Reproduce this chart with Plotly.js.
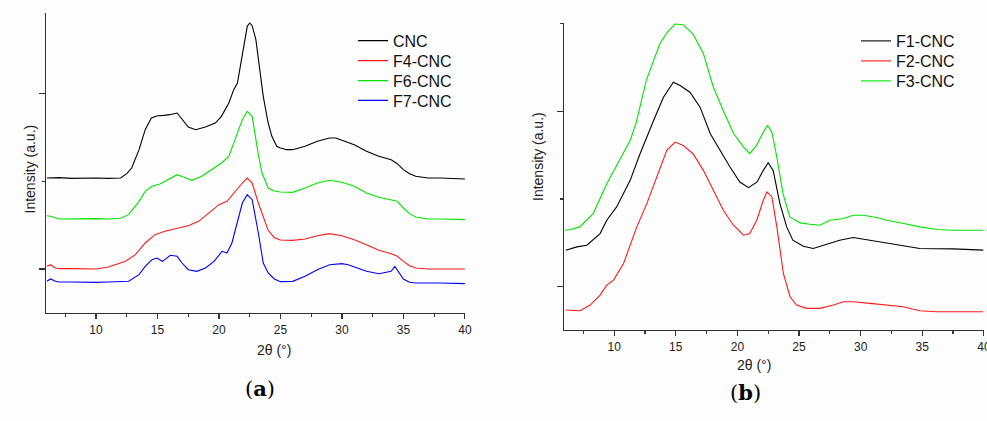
<!DOCTYPE html>
<html>
<head>
<meta charset="utf-8">
<script src="https://cdn.plot.ly/plotly-3.0.1.min.js"></script>
<style>html,body{margin:0;padding:0;background:#fdfdfd;}#chart{width:987px;height:421px;}</style>
</head>
<body>
<div id="chart"></div>
<script>
// ---- Panel (a): 2θ positions and intensities (a.u., stacked as in the figure)
const cncX = [6,7,8,9,10,11,12,12.5,12.9,13.5,14.0,14.5,15.0,15.5,16.0,16.6,17.0,17.5,18.1,18.9,19.7,20.2,20.8,21.2,21.5,22.0,22.3,22.5,22.7,23.0,23.3,23.6,24.0,24.3,24.7,25,25.5,26,27,28,29,29.5,30,31,32,33,34,34.5,35,35.5,36,37,38,39,40];
const cncI = [405,406,404,405,405,404,405,418,435,490,550,585,592,593,595,600,580,558,550,558,570,590,630,670,690,800,860,870,862,820,740,650,570,530,500,495,490,490,500,515,525,525,518,505,485,470,460,448,430,418,410,405,405,404,402];

const f4X = [6,6.3,6.7,7,8,9,10,11,11.3,12.4,13.2,14.0,14.8,15.6,16.7,17.5,18.35,19.15,20.0,20.65,21.3,21.9,22.3,22.7,23.2,24,24.5,25,26,27,28,29,30,31,32,33,34,34.5,35,35.5,36,37,38,40];
const f4I = [140,145,135,133,133,132,132,138,142,155,175,210,235,245,255,262,275,300,325,335,365,390,405,390,330,248,226,219,218,222,232,238,232,220,205,188,178,170,155,142,135,132,132,132];

const f6X = [6,6.3,7,8,9,10,11,12,12.65,13.5,14.0,14.55,15.2,15.9,16.6,17.1,17.8,18.6,19.4,20.2,20.8,21.3,21.9,22.3,22.7,23.2,23.5,24,24.5,25,25.5,26,27,28,29,30,31,32,33,34,34.5,35,35.5,36,37,38,39,40];
const f6I = [292,290,282,283,282,283,282,284,295,335,365,380,387,400,415,408,398,410,430,450,470,520,580,605,590,475,420,375,366,363,362,362,375,390,398,392,380,360,347,338,335,315,298,288,282,282,281,280];

const f7X = [6,6.3,6.7,7,8,9,10,11,12,12.65,13.5,14.0,14.55,14.95,15.4,16.05,16.6,17.0,17.5,18.2,18.9,19.6,20.25,20.65,21.05,21.45,21.9,22.3,22.7,23.2,23.6,24,24.5,25,26,27,28,29,30,30.5,31,32,33,34,34.3,34.6,35,35.5,36,38,40];
const f7I = [95,102,95,93,93,92,92,93,94,95,115,140,160,165,155,173,170,150,130,125,135,155,185,180,210,270,330,355,340,240,150,120,102,94,95,110,130,145,148,145,138,125,118,125,140,125,102,92,90,90,88];

// ---- Panel (b)
const f1X = [6.08,6.97,7.78,8.86,9.4,10.2,11.3,12.1,13.2,14.0,14.8,15.35,16.15,16.97,17.8,18.6,19.4,20.2,20.9,21.6,22.1,22.5,22.9,23.45,24.0,24.5,25.35,26.15,26.97,28.3,29.4,30.75,32.1,33.45,34.8,37.5,39.95];
const f1I = [240,250,255,290,330,370,450,530,630,700,745,735,715,670,590,540,490,445,428,445,480,503,480,380,310,270,252,245,255,270,278,270,260,252,245,244,240];

const f2X = [6.08,7.24,8.05,8.86,9.4,9.95,10.76,11.84,12.65,13.46,14.27,14.95,15.6,16.4,17.24,18.05,18.86,19.68,20.5,21.0,21.57,22.1,22.4,22.8,23.2,23.73,24.27,24.8,25.6,26.7,27.8,28.6,29.4,30.76,32.1,33.46,34.8,36.16,37.5,39.95];
const f2I = [60,58,75,105,135,150,200,310,380,460,540,565,555,530,480,420,360,315,285,290,330,390,415,400,310,170,100,75,65,65,75,85,85,80,75,70,58,55,55,55];

const f3X = [6.0,6.5,7.2,8.3,9.4,10.2,11.3,11.8,12.6,13.2,13.7,14.3,14.95,15.6,16.4,17.25,18.05,18.85,19.7,20.5,21.0,21.55,22.1,22.45,22.8,23.2,23.7,24.25,25.1,25.9,26.7,27.5,28.6,29.4,30.2,31.3,32.1,33.5,34.8,36.2,37.5,39.95];
const f3I = [300,302,310,350,440,495,570,625,750,810,860,895,920,918,890,830,730,660,590,550,530,555,595,615,595,520,410,340,322,318,315,330,335,345,345,338,330,320,310,302,300,300];

const namesA = ['CNC','F4-CNC','F6-CNC','F7-CNC'];
const namesB = ['F1-CNC','F2-CNC','F3-CNC'];
const xTicks = [10,15,20,25,30,35,40];

const BLACK='#000000', RED='#ff1a1a', GREEN='#00e600', BLUE='#0000ff';
const FONT = 'Liberation Sans, Arial, sans-serif';

function tr(x,y,name,color,xa,ya,leg){
  return {x:x,y:y,name:name,type:'scatter',mode:'lines',xaxis:xa,yaxis:ya,legend:leg,
    line:{color:color,width:1.1}};
}
const data = [
  tr(cncX,cncI,namesA[0],BLACK,'x','y','legend'),
  tr(f4X,f4I,namesA[1],RED,'x','y','legend2'),
  tr(f6X,f6I,namesA[2],GREEN,'x','y','legend3'),
  tr(f7X,f7I,namesA[3],BLUE,'x','y','legend4'),
  tr(f1X,f1I,namesB[0],BLACK,'x2','y2','legend5'),
  tr(f2X,f2I,namesB[1],RED,'x2','y2','legend6'),
  tr(f3X,f3I,namesB[2],GREEN,'x2','y2','legend7')
];

function xax(domain,anchor){
  return {domain:domain,anchor:anchor,range:[5.93,40.01],showgrid:false,zeroline:false,
    showline:true,linecolor:'#333',linewidth:1.3,ticks:'outside',ticklen:5,tickwidth:1.2,tickcolor:'#333',
    tickmode:'array',tickvals:xTicks,ticktext:xTicks.map(String),ticklabeloverflow:'allow',
    tickfont:{family:FONT,size:12,color:'#222'},
    minor:{dtick:2.5,tick0:0,ticks:'outside',ticklen:3,tickcolor:'#333',tickwidth:1.2}};
}
function yax(domain,anchor,range,t0,dt){
  return {domain:domain,anchor:anchor,range:range,showgrid:false,zeroline:false,
    showline:true,linecolor:'#333',linewidth:1.3,ticks:'outside',ticklen:6,tickwidth:1.2,tickcolor:'#333',
    showticklabels:false,tick0:t0,dtick:dt*2,
    minor:{tick0:t0,dtick:dt,ticks:'outside',ticklen:3,tickcolor:'#333',tickwidth:1.2}};
}
function leg(xpx,ypx){
  return {x:xpx/987,y:1-ypx/421,xanchor:'left',yanchor:'middle',bgcolor:'rgba(0,0,0,0)',
    borderwidth:0,font:{family:FONT,size:16,color:'#111'},tracegroupgap:0};
}
const W=987,H=421;
const layout = {
  width:W,height:H,margin:{l:0,r:0,t:0,b:0},
  paper_bgcolor:'#fdfdfd',plot_bgcolor:'rgba(0,0,0,0)',showlegend:true,
  xaxis:xax([46/W,465/W],'y'),
  yaxis:yax([1-313/H,1-13/H],'x',[0,900],132,263),
  xaxis2:xax([564/W,984/W],'y2'),
  yaxis2:yax([1-330/H,1-23/H],'x2',[0,923],130,264),
  legend:leg(353,40.7), legend2:leg(353,60.7), legend3:leg(353,80.7), legend4:leg(353,100.5),
  legend5:leg(856,41), legend6:leg(856,61), legend7:leg(856,81),
  annotations:[
    {text:'Intensity (a.u.)',x:19/W,y:1-123/H,xref:'paper',yref:'paper',showarrow:false,textangle:-90,
      font:{family:FONT,size:14,color:'#222'}},
    {text:'Intensity (a.u.)',x:538/W,y:1-157/H,xref:'paper',yref:'paper',showarrow:false,textangle:-90,
      font:{family:FONT,size:14,color:'#222'}},
    {text:'2θ (°)',x:255/W,y:1-360/H,xref:'paper',yref:'paper',showarrow:false,
      font:{family:FONT,size:14,color:'#222'}},
    {text:'2θ (°)',x:773/W,y:1-375/H,xref:'paper',yref:'paper',showarrow:false,
      font:{family:FONT,size:14,color:'#222'}},
    {text:'(<b>a</b>)',x:243/W,y:1-403/H,xref:'paper',yref:'paper',showarrow:false,
      font:{family:'DejaVu Serif, Liberation Serif, serif',size:21,color:'#000'}},
    {text:'(<b>b</b>)',x:763/W,y:1-407/H,xref:'paper',yref:'paper',showarrow:false,
      font:{family:'DejaVu Serif, Liberation Serif, serif',size:21,color:'#000'}}
  ]
};
Plotly.newPlot('chart',data,layout,{displayModeBar:false,staticPlot:true});
</script>
</body>
</html>
